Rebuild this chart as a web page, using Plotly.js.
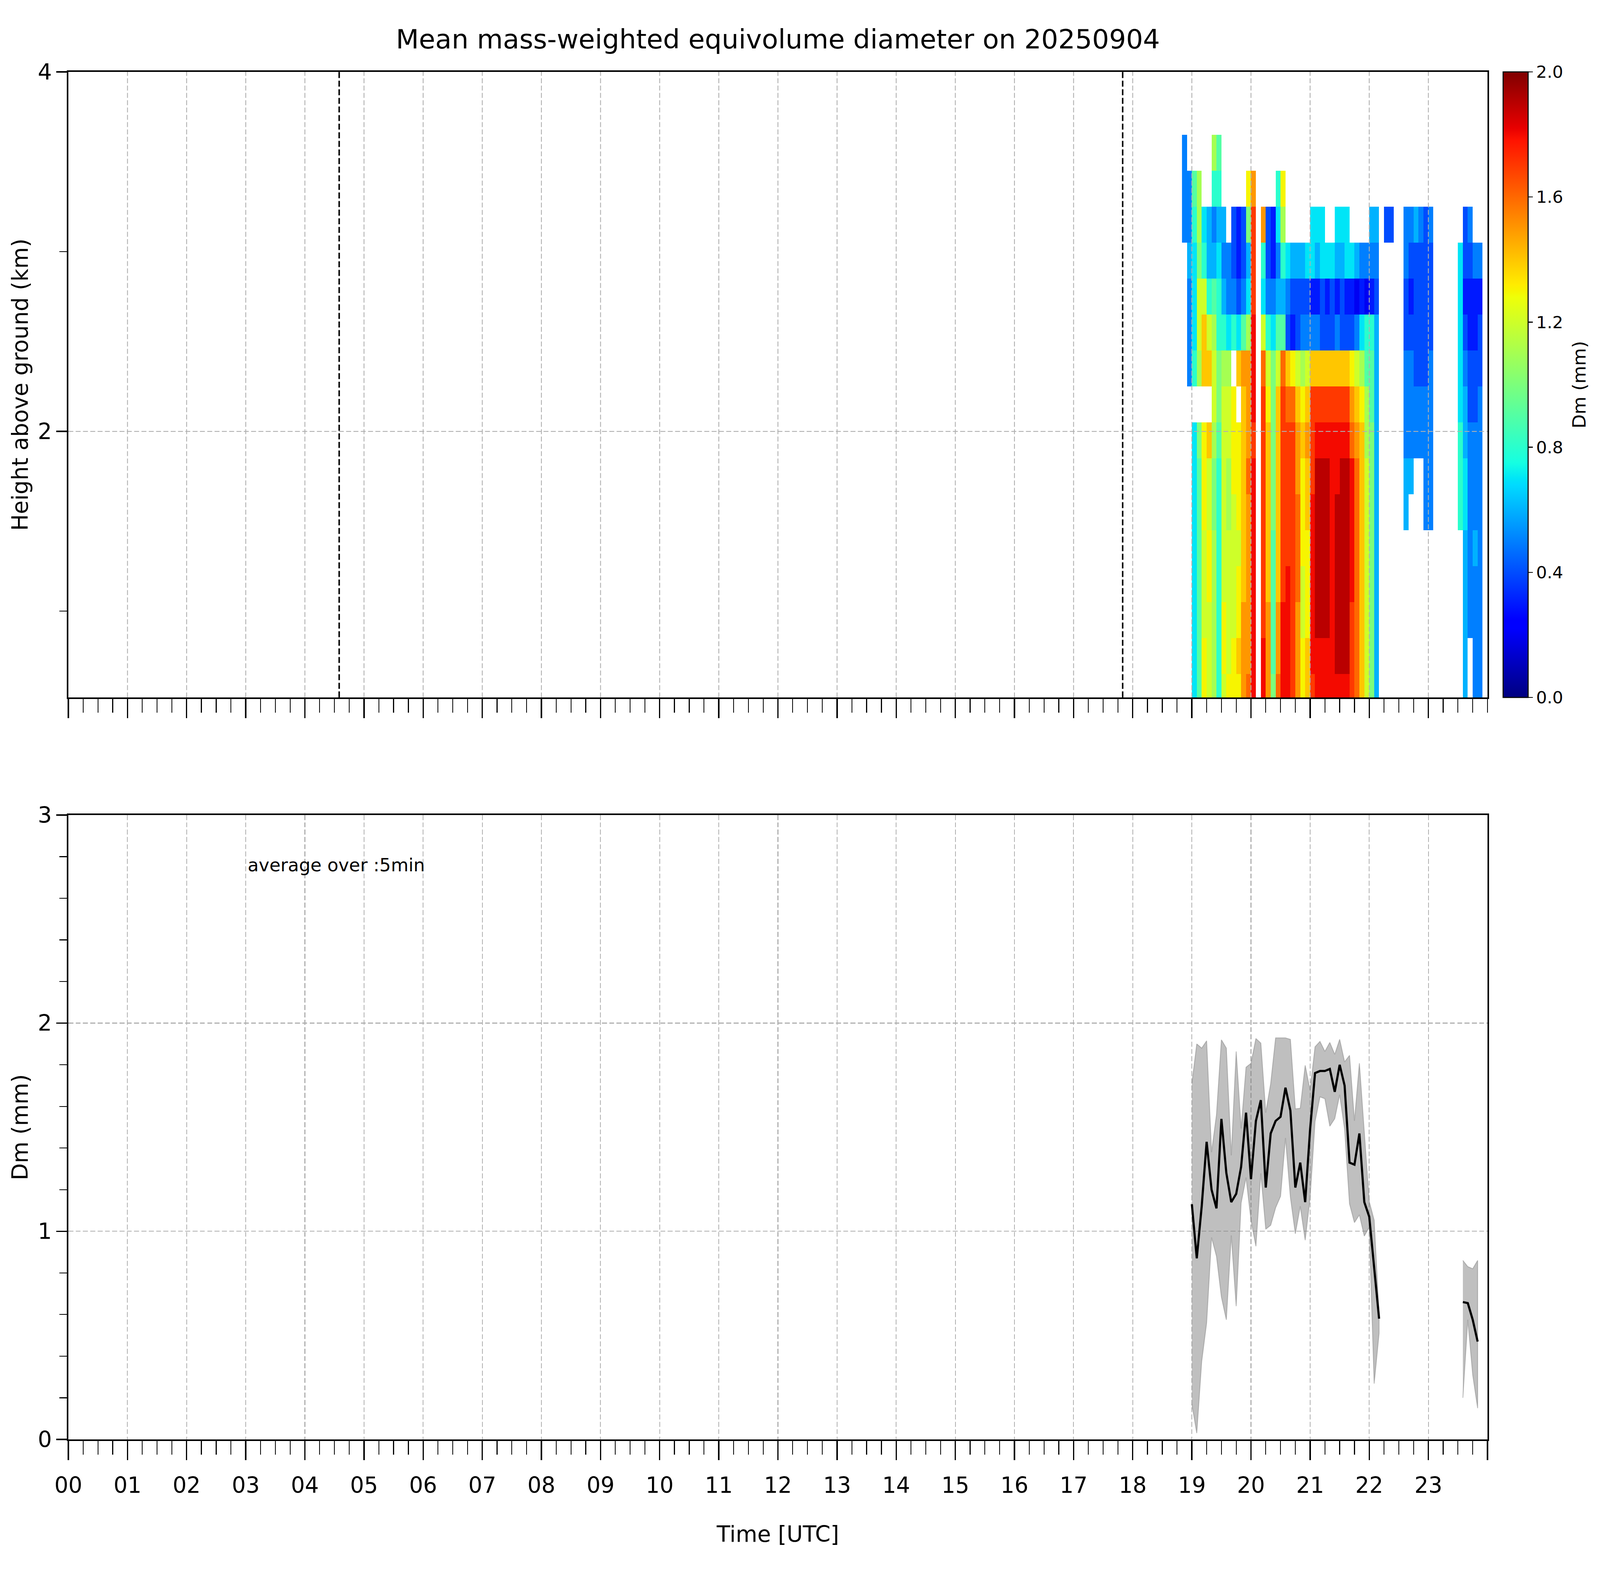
<!DOCTYPE html>
<html>
<head>
<meta charset="utf-8">
<script src="https://cdn.plot.ly/plotly-3.0.1.min.js"></script>
<style>
  html, body { margin: 0; padding: 0; background: white; overflow: hidden; }
</style>
</head>
<body>
<div id="chart"></div>
<script>
//---------------------------------------------------------------------------------------------------------------------
// Data
//---------------------------------------------------------------------------------------------------------------------
var hourLabels = ['00','01','02','03','04','05','06','07','08','09','10','11',
                  '12','13','14','15','16','17','18','19','20','21','22','23'];

// radar gates (km above ground), bottom to top
var heightLevels = [0.55, 0.75, 0.95, 1.15, 1.35, 1.55, 1.75, 1.95, 2.15, 2.35, 2.55, 2.75, 2.95, 3.15, 3.35, 3.55, 3.75];

// 5 minute profile starts
var profileTimes = ['18:50','18:55','19:00','19:05','19:10','19:15','19:20','19:25','19:30','19:35','19:40','19:45',
                    '19:50','19:55','20:00','20:05','20:10','20:15','20:20','20:25','20:30','20:35','20:40','20:45',
                    '20:50','20:55','21:00','21:05','21:10','21:15','21:20','21:25','21:30','21:35','21:40','21:45',
                    '21:50','21:55','22:00','22:05','22:10','22:15','22:20','22:25','22:30','22:35','22:40','22:45',
                    '22:50','22:55','23:00','23:05','23:10','23:15','23:20','23:25','23:30','23:35','23:40','23:45',
                    '23:50','23:55'];

// Dm profile per time step, one char per gate (bottom -> top): '.' = no echo, '0'..'9' = 0.0..0.9 mm, 'A'..'K' = 1.0..2.0 mm
var dmProfiles = [
  '.............555.', '.........555655..', '77777777.877789..', '9999999A.BCCABB..', 'DDCCCDDD.EEC87...', 'CCCDDCCE.EC866...',
  'BBBBBAABCCB9658B.', '88888889AA887689.', 'CDDCCCCCCB8656...', 'DCCCCBBCCB755....', 'DDCCCCDDD.8544...', 'DEDDCDDD.E7433...',
  'FFFEEEEEEF9544...', 'GFFFFFGFFFB76AD..', 'IIIIIIIHIIIHHHF..', '.................', 'IIHHHHHHHGC78F...', 'FFFEEEEEDC8544...',
  'A9999AAAAA7533...', 'GFFEEEEEEC96578..', 'IIIHHHHHHG968BD..', 'IIIIHHHHGE457....', 'HHHHHHHHGD346....', 'FFFGGGFFEC446....',
  'DDCCDDDEDB546....', 'EEDDDEEFEC547....', 'HIIIIIHHHE5377...', 'IIJJJJJIHE5367...', 'IIJJJJJIHE4477...', 'IIJJJJJIHE437....',
  'IIIIIIIIHE447....', 'IJJJJJIIHE5367...', 'IJJJJJJIHE4467...', 'IJJJJJJIHE4377...', 'HHHIIIIGFD437....', 'GGGGGGGFEC526....',
  'EEEEEEEEDB735....', 'CCCCCCCBB9825....', 'AAAAAAAA998356...', '66666666666456...', '.................', '.............4...',
  '.............4...', '.................', '.................', '.....665554455...', '......65554345...', '.......5544446...',
  '.......5544445...', '.....555544444...', '.....555554445...', '.................', '.................', '.................',
  '.................', '.................', '.....88877777....', '66666776654344...', '..555555443345...', '5555655544335....',
  '5555555554435....', '.................'
];

// 5 minute averages in the lower panel
var dmTimes = ['19:00','19:05','19:10','19:15','19:20','19:25','19:30','19:35','19:40','19:45','19:50','19:55',
               '20:00','20:05','20:10','20:15','20:20','20:25','20:30','20:35','20:40','20:45','20:50','20:55',
               '21:00','21:05','21:10','21:15','21:20','21:25','21:30','21:35','21:40','21:45','21:50','21:55',
               '22:00','22:05','22:10','23:35','23:40','23:45','23:50'];
var dmMean  = [1.13, 0.87, 1.12, 1.43, 1.20, 1.11, 1.54, 1.28, 1.14, 1.18, 1.31, 1.57,
               1.25, 1.53, 1.63, 1.21, 1.47, 1.53, 1.55, 1.69, 1.58, 1.21, 1.33, 1.14,
               1.49, 1.76, 1.77, 1.77, 1.78, 1.67, 1.80, 1.70, 1.33, 1.32, 1.47, 1.14,
               1.07, 0.83, 0.58, 0.66, 0.655, 0.575, 0.47];
var dmUpper = [1.71, 1.90, 1.88, 1.915, 1.38, 1.56, 1.92, 1.88, 1.365, 1.864, 1.494, 1.788,
               1.807, 1.926, 1.904, 1.57, 1.71, 1.929, 1.929, 1.929, 1.922, 1.588, 1.591, 1.797,
               1.678, 1.886, 1.912, 1.864, 1.907, 1.85, 1.922, 1.814, 1.845, 1.531, 1.807, 1.477,
               1.143, 1.053, 0.60, 0.86, 0.83, 0.82, 0.86];
var dmLower = [0.17, 0.03, 0.375, 0.56, 0.97, 0.88, 0.684, 0.575, 0.98, 0.64, 1.136, 1.258,
               1.053, 0.928, 1.278, 1.01, 1.029, 1.113, 1.168, 1.448, 1.164, 0.988, 1.12, 0.957,
               1.161, 1.527, 1.646, 1.637, 1.505, 1.541, 1.656, 1.491, 1.132, 1.042, 1.079, 0.977,
               1.02, 0.268, 0.51, 0.20, 0.575, 0.31, 0.15];

// sunrise / sunset markers (hours UTC)
var dayMarks = [4.58, 17.83];

var colorbarTicks = [0.0, 0.4, 0.8, 1.2, 1.6, 2.0];

// matplotlib 'jet'
var jetScale = [[0, 'rgb(0,0,128)'], [0.11, 'rgb(0,0,255)'], [0.125, 'rgb(0,0,255)'], [0.34, 'rgb(0,219,255)'],
                [0.35, 'rgb(0,229,247)'], [0.375, 'rgb(21,255,226)'], [0.64, 'rgb(239,255,8)'],
                [0.65, 'rgb(247,245,0)'], [0.66, 'rgb(255,236,0)'], [0.89, 'rgb(255,19,0)'],
                [0.91, 'rgb(232,0,0)'], [1, 'rgb(128,0,0)']];

//---------------------------------------------------------------------------------------------------------------------
// helpers
//---------------------------------------------------------------------------------------------------------------------
// the figure is designed at 7442 x 4031 and stretched onto whatever window we get
var W = Math.floor(window.innerWidth), H = Math.floor(window.innerHeight);
var SX = W / 7442, SY = H / 4031;
function px(v) { return v * SX; }       // horizontal lengths, fonts, line widths
function py(v) { return v * SY; }       // vertical lengths
function dash(a, b) { return px(a) + 'px,' + px(b) + 'px'; }

var levelChars = '0123456789ABCDEFGHIJK';
function toHours(t) {
    var p = t.split(':');
    return +p[0] + (+p[1]) / 60;
}
function decodeProfile(s) {
    return s.split('').map(function (c) { return c === '.' ? null : levelChars.indexOf(c) / 10; });
}

var GRID = '#b0b0b0';

// heatmap grid: rows = heights, columns = time bin centres
var binCentres = profileTimes.map(function (t) { return toHours(t) + 2.5 / 60; });
var columns = dmProfiles.map(decodeProfile);
var zGrid = heightLevels.map(function (h, j) {
    return columns.map(function (col) { return col[j]; });
});

var heat = {
    type: 'heatmap', x: binCentres, y: heightLevels, z: zGrid, xaxis: 'x', yaxis: 'y',
    zmin: 0, zmax: 2, colorscale: jetScale, hoverinfo: 'skip',
    colorbar: {
        x: 1.0111, xanchor: 'left', y: 1, yanchor: 'top', len: py(1601), lenmode: 'pixels',
        thickness: px(116), thicknessmode: 'pixels', xpad: 0, ypad: 0,
        outlinewidth: px(5), outlinecolor: 'black',
        tickmode: 'array', tickvals: colorbarTicks, ticktext: colorbarTicks.map(function (v) { return v.toFixed(1); }),
        ticks: 'outside', ticklen: px(20), tickwidth: px(4), tickcolor: 'black',
        tickfont: {size: px(79), color: 'black'}, title: {text: ''}
    }
};

// band polygons + mean line, split where the 5 min series has a gap
var dmHours = dmTimes.map(toHours);
var segments = [[0]];
for (var i = 1; i < dmHours.length; i++) {
    if (dmHours[i] - dmHours[i - 1] > 6 / 60) segments.push([i]);
    else segments[segments.length - 1].push(i);
}
var traces = [heat];
var lineX = [], lineY = [];
segments.forEach(function (seg, k) {
    var bx = [], by = [];
    seg.forEach(function (i) { bx.push(dmHours[i]); by.push(dmUpper[i]); });
    seg.slice().reverse().forEach(function (i) { bx.push(dmHours[i]); by.push(dmLower[i]); });
    traces.push({type: 'scatter', mode: 'lines', x: bx, y: by, xaxis: 'x2', yaxis: 'y2', fill: 'toself',
                 fillcolor: 'rgba(128,128,128,0.5)', line: {color: 'rgba(128,128,128,0.5)', width: px(4)},
                 hoverinfo: 'skip'});
    if (k > 0) { lineX.push(null); lineY.push(null); }
    seg.forEach(function (i) { lineX.push(dmHours[i]); lineY.push(dmMean[i]); });
});
traces.push({type: 'scatter', mode: 'lines', x: lineX, y: lineY, xaxis: 'x2', yaxis: 'y2',
             line: {color: 'black', width: px(10)}, hoverinfo: 'skip'});

//---------------------------------------------------------------------------------------------------------------------
// layout
//---------------------------------------------------------------------------------------------------------------------
var hourTicks = hourLabels.map(function (s, i) { return i; }).concat([24]);
var hourText = hourLabels.concat(['']);

function timeAxis(extra) {
    var ax = {range: [0, 24], tickmode: 'array', tickvals: hourTicks, ticktext: hourText,
              ticks: 'outside', ticklen: py(49), tickwidth: px(6), tickcolor: 'black',
              minor: {tickmode: 'linear', tick0: 0, dtick: 0.25, ticks: 'outside', ticklen: py(35), tickwidth: px(4),
                      tickcolor: 'black', showgrid: false},
              showline: true, linewidth: px(7), linecolor: 'black', mirror: true, zeroline: false,
              tickfont: {size: px(102)}, ticklabelstandoff: py(17), domain: [0, 1]};
    for (var k in extra) ax[k] = extra[k];
    return ax;
}
function valueAxis(extra) {
    var ax = {ticks: 'outside', ticklen: px(49), tickwidth: px(6), tickcolor: 'black',
              showline: true, linewidth: px(7), linecolor: 'black', mirror: true, zeroline: false,
              tickfont: {size: px(103)}};
    for (var k in extra) ax[k] = extra[k];
    return ax;
}

// grid of the upper panel has to sit above the heatmap, so it is drawn as shapes
var shapes = [];
for (var h = 1; h < 24; h++) {
    shapes.push({type: 'line', layer: 'above', xref: 'x', yref: 'y domain', x0: h, x1: h, y0: 0, y1: 1,
                 line: {color: GRID, width: px(4), dash: dash(23, 11)}});
}
shapes.push({type: 'line', layer: 'above', xref: 'x domain', yref: 'y', x0: 0, x1: 1, y0: 2, y1: 2,
             line: {color: GRID, width: px(4), dash: dash(23, 11)}});
dayMarks.forEach(function (t) {
    shapes.push({type: 'line', layer: 'above', xref: 'x', yref: 'y domain', x0: t, x1: t, y0: 0, y1: 1,
                 line: {color: 'black', width: px(7), dash: dash(28, 12)}});
});

var layout = {
    width: W, height: H,
    margin: {l: px(318), r: px(524), t: py(184), b: py(347), pad: 0},
    paper_bgcolor: 'white', plot_bgcolor: 'white', showlegend: false,
    font: {family: 'DejaVu Sans', size: px(103), color: 'black'},
    title: {text: 'Mean mass-weighted equivolume diameter on 20250904', font: {size: px(124)},
            xref: 'paper', x: 0.5, xanchor: 'center', yref: 'container', y: 0.9752, yanchor: 'middle'},
    xaxis: timeAxis({anchor: 'y', showticklabels: false, showgrid: false}),
    yaxis: valueAxis({domain: [0.5426, 1], range: [0.52, 4], anchor: 'x', tickmode: 'array', tickvals: [2, 4],
            minor: {tickmode: 'array', tickvals: [1, 3], ticks: 'outside', ticklen: px(34), tickwidth: px(4),
                    tickcolor: 'black', showgrid: false},
            showgrid: false,
            title: {text: 'Height above ground (km)', font: {size: px(103)}, standoff: px(14)}}),
    xaxis2: timeAxis({anchor: 'y2', matches: 'x', showgrid: true, gridcolor: GRID, gridwidth: px(4),
                      griddash: dash(23, 11),
                      title: {text: 'Time [UTC]', font: {size: px(103)}, standoff: py(74)}}),
    yaxis2: valueAxis({domain: [0, 0.4566], range: [0, 3], anchor: 'x2', tickmode: 'linear', tick0: 0, dtick: 1,
             minor: {tickmode: 'linear', tick0: 0, dtick: 0.2, ticks: 'outside', ticklen: px(34), tickwidth: px(4),
                     tickcolor: 'black', showgrid: false},
             showgrid: true, gridcolor: GRID, gridwidth: px(4), griddash: dash(23, 11),
             title: {text: 'Dm (mm)', font: {size: px(103)}, standoff: px(14)}}),
    shapes: shapes,
    annotations: [
        {xref: 'x2', yref: 'y2', x: 3.02, y: 2.76, xanchor: 'left', yanchor: 'middle', showarrow: false,
         text: 'average over :5min', font: {size: px(84)}},
        {xref: 'paper', yref: 'paper', x: 1.0648, y: 0.7714, xanchor: 'center', yanchor: 'middle', showarrow: false,
         textangle: -90, text: 'Dm (mm)', font: {size: px(85)}}
    ]
};

Plotly.newPlot('chart', traces, layout, {displayModeBar: false, staticPlot: true});
</script>
</body>
</html>
